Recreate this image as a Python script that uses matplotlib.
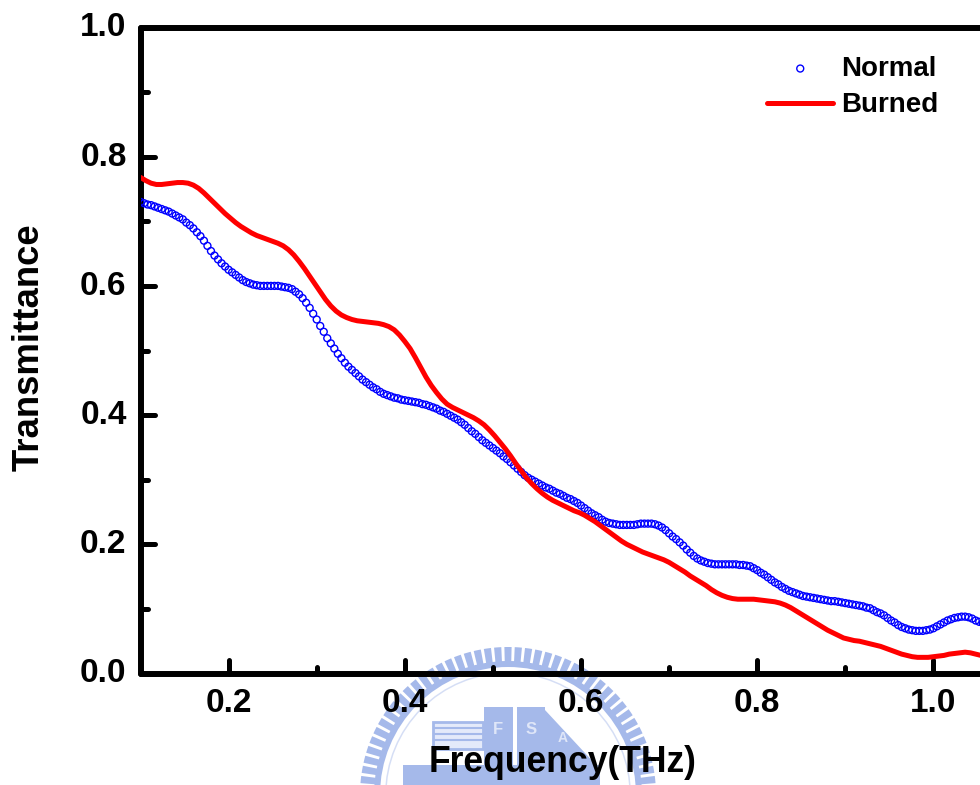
import matplotlib
matplotlib.use('Agg')
import matplotlib.pyplot as plt
import matplotlib.markers as mmarkers
from matplotlib.markers import MarkerStyle
from matplotlib.patches import Wedge, Rectangle, Polygon
from matplotlib.transforms import ScaledTranslation

W, H = 980, 785

normal_freq = [0.100, 0.104, 0.108, 0.112, 0.116, 0.120, 0.124, 0.128, 0.132, 0.136,
               0.140, 0.144, 0.148, 0.152, 0.156, 0.160, 0.164, 0.168, 0.172, 0.176,
               0.180, 0.184, 0.188, 0.192, 0.196, 0.200, 0.204, 0.208, 0.212, 0.216,
               0.220, 0.224, 0.228, 0.232, 0.236, 0.240, 0.244, 0.248, 0.252, 0.256,
               0.260, 0.264, 0.268, 0.272, 0.276, 0.280, 0.284, 0.288, 0.292, 0.296,
               0.300, 0.304, 0.308, 0.312, 0.316, 0.320, 0.324, 0.328, 0.332, 0.336,
               0.340, 0.344, 0.348, 0.352, 0.356, 0.360, 0.364, 0.368, 0.372, 0.376,
               0.380, 0.384, 0.388, 0.392, 0.396, 0.400, 0.404, 0.408, 0.412, 0.416,
               0.420, 0.424, 0.428, 0.432, 0.436, 0.440, 0.444, 0.448, 0.452, 0.456,
               0.460, 0.464, 0.468, 0.472, 0.476, 0.480, 0.484, 0.488, 0.492, 0.496,
               0.500, 0.504, 0.508, 0.512, 0.516, 0.520, 0.524, 0.528, 0.532, 0.536,
               0.540, 0.544, 0.548, 0.552, 0.556, 0.560, 0.564, 0.568, 0.572, 0.576,
               0.580, 0.584, 0.588, 0.592, 0.596, 0.600, 0.604, 0.608, 0.612, 0.616,
               0.620, 0.624, 0.628, 0.632, 0.636, 0.640, 0.644, 0.648, 0.652, 0.656,
               0.660, 0.664, 0.668, 0.672, 0.676, 0.680, 0.684, 0.688, 0.692, 0.696,
               0.700, 0.704, 0.708, 0.712, 0.716, 0.720, 0.724, 0.728, 0.732, 0.736,
               0.740, 0.744, 0.748, 0.752, 0.756, 0.760, 0.764, 0.768, 0.772, 0.776,
               0.780, 0.784, 0.788, 0.792, 0.796, 0.800, 0.804, 0.808, 0.812, 0.816,
               0.820, 0.824, 0.828, 0.832, 0.836, 0.840, 0.844, 0.848, 0.852, 0.856,
               0.860, 0.864, 0.868, 0.872, 0.876, 0.880, 0.884, 0.888, 0.892, 0.896,
               0.900, 0.904, 0.908, 0.912, 0.916, 0.920, 0.924, 0.928, 0.932, 0.936,
               0.940, 0.944, 0.948, 0.952, 0.956, 0.960, 0.964, 0.968, 0.972, 0.976,
               0.980, 0.984, 0.988, 0.992, 0.996, 1.000, 1.004, 1.008, 1.012, 1.016,
               1.020, 1.024, 1.028, 1.032, 1.036, 1.040, 1.044, 1.048, 1.052, 1.056]
normal_trans = [0.730, 0.728, 0.726, 0.725, 0.723, 0.721, 0.719, 0.717, 0.715, 0.712,
                0.709, 0.706, 0.703, 0.698, 0.694, 0.689, 0.683, 0.677, 0.670, 0.662,
                0.654, 0.647, 0.641, 0.635, 0.630, 0.625, 0.621, 0.617, 0.613, 0.609,
                0.606, 0.604, 0.602, 0.601, 0.600, 0.600, 0.600, 0.600, 0.600, 0.600,
                0.599, 0.598, 0.597, 0.595, 0.591, 0.587, 0.581, 0.574, 0.566, 0.557,
                0.548, 0.538, 0.529, 0.519, 0.511, 0.503, 0.495, 0.488, 0.481, 0.475,
                0.470, 0.465, 0.460, 0.455, 0.451, 0.447, 0.443, 0.440, 0.436, 0.433,
                0.431, 0.429, 0.427, 0.426, 0.424, 0.423, 0.422, 0.421, 0.420, 0.419,
                0.417, 0.416, 0.414, 0.412, 0.410, 0.407, 0.405, 0.402, 0.399, 0.396,
                0.393, 0.389, 0.385, 0.380, 0.375, 0.371, 0.366, 0.361, 0.357, 0.353,
                0.349, 0.345, 0.341, 0.336, 0.332, 0.327, 0.322, 0.317, 0.312, 0.307,
                0.303, 0.300, 0.297, 0.294, 0.291, 0.288, 0.286, 0.283, 0.280, 0.278,
                0.275, 0.272, 0.270, 0.267, 0.264, 0.260, 0.256, 0.252, 0.248, 0.245,
                0.242, 0.238, 0.235, 0.233, 0.232, 0.231, 0.230, 0.230, 0.230, 0.230,
                0.230, 0.231, 0.232, 0.232, 0.232, 0.232, 0.231, 0.229, 0.226, 0.222,
                0.217, 0.212, 0.208, 0.203, 0.198, 0.192, 0.187, 0.182, 0.178, 0.175,
                0.173, 0.171, 0.170, 0.169, 0.169, 0.169, 0.169, 0.169, 0.169, 0.169,
                0.168, 0.168, 0.167, 0.166, 0.163, 0.160, 0.156, 0.153, 0.149, 0.145,
                0.141, 0.138, 0.134, 0.131, 0.128, 0.126, 0.124, 0.122, 0.120, 0.119,
                0.118, 0.117, 0.116, 0.115, 0.114, 0.113, 0.112, 0.112, 0.111, 0.110,
                0.109, 0.108, 0.107, 0.106, 0.105, 0.104, 0.102, 0.101, 0.098, 0.095,
                0.093, 0.090, 0.086, 0.082, 0.079, 0.075, 0.072, 0.070, 0.068, 0.067,
                0.066, 0.066, 0.066, 0.067, 0.068, 0.070, 0.073, 0.076, 0.079, 0.082,
                0.084, 0.086, 0.087, 0.088, 0.088, 0.087, 0.085, 0.082, 0.080, 0.078]

burned_freq = [0.100, 0.106, 0.112, 0.118, 0.124, 0.130, 0.136, 0.142, 0.148, 0.154,
               0.160, 0.166, 0.172, 0.178, 0.184, 0.190, 0.196, 0.202, 0.208, 0.214,
               0.220, 0.226, 0.232, 0.238, 0.244, 0.250, 0.256, 0.262, 0.268, 0.274,
               0.280, 0.286, 0.292, 0.298, 0.304, 0.310, 0.316, 0.322, 0.328, 0.334,
               0.340, 0.346, 0.352, 0.358, 0.364, 0.370, 0.376, 0.382, 0.388, 0.394,
               0.400, 0.406, 0.412, 0.418, 0.424, 0.430, 0.436, 0.442, 0.448, 0.454,
               0.460, 0.466, 0.472, 0.478, 0.484, 0.490, 0.496, 0.502, 0.508, 0.514,
               0.520, 0.526, 0.532, 0.538, 0.544, 0.550, 0.556, 0.562, 0.568, 0.574,
               0.580, 0.586, 0.592, 0.598, 0.604, 0.610, 0.616, 0.622, 0.628, 0.634,
               0.640, 0.646, 0.652, 0.658, 0.664, 0.670, 0.676, 0.682, 0.688, 0.694,
               0.700, 0.706, 0.712, 0.718, 0.724, 0.730, 0.736, 0.742, 0.748, 0.754,
               0.760, 0.766, 0.772, 0.778, 0.784, 0.790, 0.796, 0.802, 0.808, 0.814,
               0.820, 0.826, 0.832, 0.838, 0.844, 0.850, 0.856, 0.862, 0.868, 0.874,
               0.880, 0.886, 0.892, 0.898, 0.904, 0.910, 0.916, 0.922, 0.928, 0.934,
               0.940, 0.946, 0.952, 0.958, 0.964, 0.970, 0.976, 0.982, 0.988, 0.994,
               1.000, 1.006, 1.012, 1.018, 1.024, 1.030, 1.036, 1.042, 1.048, 1.054]
burned_trans = [0.768, 0.763, 0.759, 0.757, 0.757, 0.758, 0.759, 0.760, 0.760, 0.759,
                0.756, 0.751, 0.744, 0.736, 0.728, 0.720, 0.712, 0.705, 0.698, 0.692,
                0.687, 0.682, 0.678, 0.675, 0.672, 0.669, 0.666, 0.662, 0.656, 0.648,
                0.638, 0.627, 0.615, 0.603, 0.591, 0.579, 0.569, 0.561, 0.555, 0.551,
                0.548, 0.546, 0.545, 0.544, 0.543, 0.542, 0.540, 0.537, 0.532, 0.524,
                0.514, 0.503, 0.489, 0.474, 0.459, 0.446, 0.435, 0.425, 0.417, 0.412,
                0.408, 0.404, 0.400, 0.396, 0.391, 0.385, 0.377, 0.368, 0.358, 0.348,
                0.337, 0.325, 0.314, 0.303, 0.294, 0.286, 0.279, 0.273, 0.268, 0.264,
                0.260, 0.256, 0.252, 0.249, 0.245, 0.240, 0.235, 0.229, 0.223, 0.217,
                0.211, 0.205, 0.200, 0.196, 0.192, 0.188, 0.185, 0.182, 0.179, 0.176,
                0.172, 0.167, 0.162, 0.157, 0.151, 0.146, 0.141, 0.136, 0.130, 0.125,
                0.121, 0.118, 0.116, 0.115, 0.115, 0.115, 0.115, 0.114, 0.113, 0.112,
                0.111, 0.109, 0.106, 0.102, 0.097, 0.092, 0.087, 0.082, 0.077, 0.072,
                0.067, 0.063, 0.059, 0.055, 0.053, 0.051, 0.050, 0.048, 0.046, 0.044,
                0.042, 0.039, 0.036, 0.033, 0.030, 0.028, 0.026, 0.025, 0.025, 0.025,
                0.026, 0.027, 0.028, 0.030, 0.031, 0.032, 0.033, 0.032, 0.030, 0.028]

x_major = [0.2, 0.4, 0.6, 0.8, 1.0]
x_minor = [0.3, 0.5, 0.7, 0.9]
y_major = [0.0, 0.2, 0.4, 0.6, 0.8, 1.0]
y_minor = [0.1, 0.3, 0.5, 0.7, 0.9]

plt.rcParams['font.family'] = 'Liberation Sans'
plt.rcParams['font.weight'] = 'bold'

fig = plt.figure(figsize=(W / 100, H / 100), dpi=100)

# university seal behind the x label, drawn in pixel coordinates
bg = fig.add_axes([0, 0, 1, 1], zorder=0)
bg.set_xlim(0, W)
bg.set_ylim(H, 0)
bg.axis('off')
seal = '#a5b9ea'
cx, cy = 508, 795
for ang in range(180, 361, 4):
    bg.add_patch(Wedge((cx, cy), 148, ang + 0.6, ang + 3.4, width=15, fc=seal, ec='none'))
bg.add_patch(Wedge((cx, cy), 134, 180, 360, width=6, fc=seal, ec='none'))
bg.add_patch(Wedge((cx, cy), 123, 180, 360, width=1.5, fc='#d5def5', ec='none'))
bg.add_patch(Rectangle((433, 722), 50, 27, fc='#e4eafa', ec=seal, lw=2))
for yy in (728, 734, 740):
    bg.plot([434, 482], [yy, yy], color=seal, lw=1.5)
bg.add_patch(Rectangle((484, 707), 29, 60, fc=seal, ec='none'))
bg.add_patch(Rectangle((517, 707), 28, 60, fc=seal, ec='none'))
bg.add_patch(Polygon([(545, 710), (598, 767), (545, 767)], fc=seal, ec='none'))
bg.add_patch(Rectangle((403, 765), 197, 20, fc=seal, ec='none'))
bg.text(498, 729, 'F', color='#dfe6f8', fontsize=12, ha='center', va='center')
bg.text(531, 729, 'S', color='#dfe6f8', fontsize=12, ha='center', va='center')
bg.text(563, 738, 'A', color='#dfe6f8', fontsize=10, ha='center', va='center')

ax = fig.add_axes([140.5 / W, (H - 673.5) / H, (W - 140.5) / W, 646 / H], zorder=1)
ax.patch.set_alpha(0)

# scatter keeps sub-pixel positions, plot markers get rounded and clump
normal_pts = ax.scatter(normal_freq, normal_trans, s=25, marker='o', facecolors='none',
                        edgecolors='#0000ff', linewidths=1.0, label='Normal', zorder=3)
burned_line, = ax.plot(burned_freq, burned_trans, color='#ff0000', linewidth=3.6,
                       solid_joinstyle='round', solid_capstyle='round', label='Burned', zorder=3.1)

ax.set_xlim(0.1, 0.1 + (W - 140.5) / 881)
ax.set_ylim(0, 1)
ax.set_xticks(x_major)
ax.set_xticklabels(['0.2', '0.4', '0.6', '0.8', '1.0'])
ax.set_xticks(x_minor, minor=True)
ax.set_yticks(y_major)
ax.set_yticklabels(['0.0', '0.2', '0.4', '0.6', '0.8', '1.0'])
ax.set_yticks(y_minor, minor=True)

ax.spines['right'].set_visible(False)
for s in ('left', 'top', 'bottom'):
    ax.spines[s].set_linewidth(4.3)
    ax.spines[s].set_capstyle('round')

ax.tick_params(axis='both', which='major', direction='in', length=10, width=3.6,
               labelsize=24, pad=10)
ax.tick_params(axis='both', which='minor', direction='in', length=5, width=3.6)
ax.tick_params(axis='x', which='major', pad=10.5)

# rounded tick ends
for t in ax.xaxis.get_major_ticks() + ax.xaxis.get_minor_ticks():
    t.tick1line.set_marker(MarkerStyle(mmarkers.TICKUP, capstyle='round'))
for t in ax.yaxis.get_major_ticks() + ax.yaxis.get_minor_ticks():
    t.tick1line.set_marker(MarkerStyle(mmarkers.TICKRIGHT, capstyle='round'))

# y labels sit a little above their ticks
for lab in ax.get_yticklabels():
    lab.set_transform(lab.get_transform() + ScaledTranslation(0, 3 / 100, fig.dpi_scale_trans))

fig.text(563 / W, 1 - 763 / H, 'Frequency(THz)', fontsize=25.6, ha='center', va='center')
fig.text(29 / W, 1 - 347 / H, 'Transmittance', fontsize=26.3, rotation=90, ha='center', va='center')

ax.legend(handles=[normal_pts, burned_line], loc='upper left',
          bbox_to_anchor=((759 - 140.5) / (W - 140.5), 1 - 20 / 646),
          frameon=False, fontsize=20, handlelength=2.37, handletextpad=0.3,
          labelspacing=0.38, borderpad=0.3, borderaxespad=0, scatterpoints=1)

fig.savefig('out.png', dpi=100)
